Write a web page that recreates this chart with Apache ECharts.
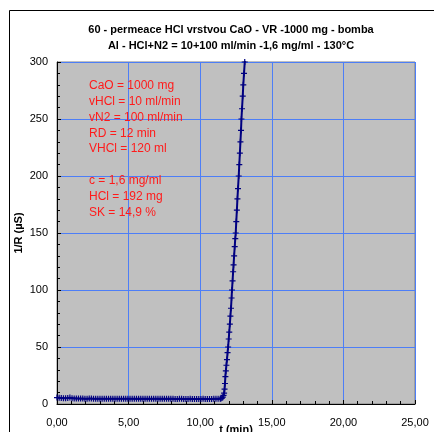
<!DOCTYPE html>
<html>
<head>
<meta charset="utf-8">
<script src="https://cdn.jsdelivr.net/npm/echarts@6/dist/echarts.min.js"></script>
<style>
  html, body { margin: 0; padding: 0; background: #fff; }
  #chart { width: 434px; height: 432px; }
</style>
</head>
<body>
<div id="chart"></div>
<script>
// cas (min)
var casy = [
    0.00, 0.15, 0.30, 0.45, 0.60, 0.75, 0.90, 1.05, 1.20, 1.35,
    1.50, 1.65, 1.80, 1.95, 2.10, 2.25, 2.40, 2.55, 2.70, 2.85,
    3.00, 3.15, 3.30, 3.45, 3.60, 3.75, 3.90, 4.05, 4.20, 4.35,
    4.50, 4.65, 4.80, 4.95, 5.10, 5.25, 5.40, 5.55, 5.70, 5.85,
    6.00, 6.15, 6.30, 6.45, 6.60, 6.75, 6.90, 7.05, 7.20, 7.35,
    7.50, 7.65, 7.80, 7.95, 8.10, 8.25, 8.40, 8.55, 8.70, 8.85,
    9.00, 9.15, 9.30, 9.45, 9.60, 9.75, 9.90, 10.05, 10.20, 10.35,
    10.50, 10.65, 10.80, 10.95, 11.10, 11.25, 11.40,
    11.45, 11.52, 11.58, 11.63, 11.67, 11.70, 11.73, 11.76, 11.79, 11.83,
    11.87, 11.91, 11.95, 11.99, 12.03, 12.07, 12.11, 12.15, 12.19, 12.22,
    12.26, 12.30, 12.33, 12.37, 12.41, 12.45, 12.48, 12.52, 12.56, 12.60,
    12.64, 12.69, 12.73, 12.77, 12.81, 12.85, 12.88, 12.92, 12.97, 13.01,
    13.06, 13.11, 13.15
];
// 1/R (uS)
var vodivost = [
    5.6, 5.5, 5.3, 5.1, 5.0, 5.2, 5.6, 5.1, 4.9, 4.9,
    4.8, 4.8, 4.8, 4.7, 4.7, 4.8, 4.8, 4.7, 4.7, 4.7,
    4.7, 4.6, 4.6, 4.7, 4.7, 4.6, 4.6, 4.6, 4.6, 4.7,
    4.7, 4.6, 4.6, 4.6, 4.6, 4.6, 4.6, 4.5, 4.5, 4.5,
    4.6, 4.5, 4.5, 4.5, 4.5, 4.6, 4.6, 4.5, 4.5, 4.5,
    4.5, 4.5, 4.5, 4.5, 4.5, 4.4, 4.4, 4.5, 4.5, 4.4,
    4.4, 4.4, 4.5, 4.4, 4.4, 4.4, 4.4, 4.4, 4.5, 4.4,
    4.4, 4.4, 4.4, 4.5, 4.5, 4.5, 4.6,
    4.8, 5.2, 6.0, 7.5, 9.5, 13, 18, 24, 29, 34,
    39, 45, 50, 57, 63, 70, 77, 84, 93, 100,
    108, 116, 122, 130, 138, 145, 150, 160, 170, 180,
    189, 200, 210, 220, 230, 240, 250, 259, 270, 280,
    290, 300, 310
];

var popisky = [
    'CaO = 1000 mg',
    'vHCl = 10 ml/min',
    'vN2 = 100 ml/min',
    'RD = 12 min',
    'VHCl = 120 ml',
    '',
    'c = 1,6 mg/ml',
    'HCl = 192 mg',
    'SK = 14,9 %'
];

var nadpis = '60 - permeace HCl vrstvou CaO - VR -1000 mg - bomba\nAl - HCl+N2 = 10+100 ml/min -1,6 mg/ml - 130°C';

var data = [];
for (var i = 0; i < casy.length; i++) {
    data.push([casy[i], vodivost[i]]);
}

var myChart = echarts.init(document.getElementById('chart'));
var font = 'Liberation Sans, Arial, sans-serif';
var modra = '#4d7ef7';

var option = {
    animation: false,
    backgroundColor: '#fff',
    title: {
        text: nadpis,
        left: 226,
        top: 17,
        textAlign: 'center',
        textStyle: {
            fontFamily: font,
            fontSize: 11,
            fontWeight: 'bold',
            color: '#000',
            lineHeight: 16
        }
    },
    grid: {
        left: 57,
        right: 19,
        top: 62,
        bottom: 28,
        outerBoundsMode: 'none',
        show: true,
        backgroundColor: '#c0c0c0',
        borderColor: '#808080',
        borderWidth: 1
    },
    xAxis: {
        type: 'value',
        min: 0,
        max: 25,
        interval: 5,
        name: 't (min)',
        nameLocation: 'middle',
        nameGap: 20,
        nameMoveOverlap: false,
        nameTextStyle: { fontFamily: font, fontSize: 11, fontWeight: 'bold', color: '#000' },
        axisLine: { show: true, lineStyle: { color: '#000', width: 1 } },
        axisTick: { show: true, inside: true, length: 4, lineStyle: { color: '#000' } },
        minorTick: { show: true, splitNumber: 5, length: 3, lineStyle: { color: '#000' } },
        axisLabel: {
            fontFamily: font,
            fontSize: 11,
            color: '#000',
            margin: 13,
            formatter: function(v) { return v.toFixed(2).replace('.', ','); }
        },
        splitLine: { show: true, lineStyle: { color: modra, width: 1 } }
    },
    yAxis: {
        type: 'value',
        min: 0,
        max: 300,
        interval: 50,
        name: '1/R (µS)',
        nameLocation: 'middle',
        nameGap: 33,
        nameRotate: 90,
        nameMoveOverlap: false,
        nameTextStyle: { fontFamily: font, fontSize: 11, fontWeight: 'bold', color: '#000' },
        axisLine: { show: true, lineStyle: { color: '#000', width: 1 } },
        axisTick: { show: true, inside: true, length: 4, lineStyle: { color: '#000' } },
        minorTick: { show: true, splitNumber: 5, length: 3, lineStyle: { color: '#000' } },
        axisLabel: { fontFamily: font, fontSize: 11, color: '#000', margin: 9 },
        splitLine: { show: true, lineStyle: { color: modra, width: 1 } }
    },
    graphic: [{
        type: 'rect',
        shape: { x: 9.5, y: 10.5, width: 600, height: 600 },
        style: { fill: 'none', stroke: '#000', lineWidth: 1 },
        silent: true,
        z: 100
    }, {
        type: 'text',
        left: 89,
        top: 78,
        style: {
            text: popisky.join('\n'),
            fontFamily: font,
            fontSize: 12,
            lineHeight: 15.8,
            fill: '#ff1a1a'
        },
        z: 100
    }],
    series: [{
        type: 'line',
        data: data,
        symbol: 'path://M4,0H6V4H10V6H6V10H4V6H0V4H4Z',
        symbolSize: 6,
        showAllSymbol: true,
        clip: true,
        lineStyle: { color: '#000080', width: 2 },
        itemStyle: { color: '#000080' }
    }]
};
myChart.setOption(option);
</script>
</body>
</html>
